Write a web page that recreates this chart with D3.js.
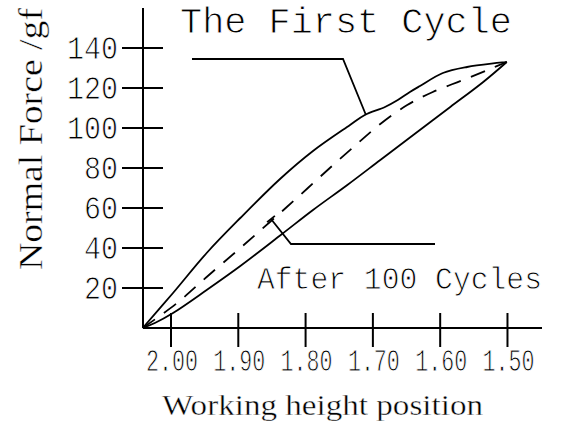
<!DOCTYPE html>
<html>
<head>
<meta charset="utf-8">
<script src="https://cdn.jsdelivr.net/npm/d3@7"></script>
<style>
	body { margin: 0; background: #fff; }
	svg { display: block; }
	.simplex {
		font-family: "Liberation Mono", "DejaVu Sans Mono", monospace;
		stroke: #fff;
		stroke-width: 0.9px;
		paint-order: normal;
	}
	.serif {
		font-family: "Liberation Serif", "DejaVu Serif", serif;
		stroke: #fff;
		stroke-width: 0.4px;
		paint-order: normal;
	}
</style>
</head>
<body>
<script>
const w = 562;
const h = 429;

// * DATA
const xTicks = [2.0, 1.9, 1.8, 1.7, 1.6, 1.5];
const yTicks = [20, 40, 60, 80, 100, 120, 140];

// the first cycle (upper solid curve)
const firstX = [2.042, 1.997, 1.947, 1.897, 1.838, 1.789, 1.734, 1.712, 1.682, 1.663, 1.645, 1.63, 1.596, 1.56, 1.501];
const firstY = [0, 17.5, 37.5, 55, 74.5, 88.5, 101.5, 106.5, 110.5, 114, 118, 121, 127.5, 130.5, 133];

// dashed middle curve
const midX = [2.042, 1.991, 1.947, 1.897, 1.853, 1.808, 1.764, 1.722, 1.689, 1.649, 1.611, 1.566, 1.526, 1.501];
const midY = [0, 12.5, 25.5, 40, 53, 66.5, 80, 92.5, 102, 111.5, 118, 124, 129.5, 133];

// after 100 cycles (lower solid curve)
const afterX = [2.042, 2.024, 1.997, 1.947, 1.897, 1.835, 1.789, 1.738, 1.689, 1.64, 1.585, 1.536, 1.501];
const afterY = [0, 2.5, 7.5, 19, 31, 47, 59, 71.5, 84, 96.5, 110.5, 123, 133];

// leader lines, in data units
const firstLeaderX = [1.9688, 1.7444, 1.7103];
const firstLeaderY = [134.5, 134.5, 106.5];
const afterLeaderX = [1.6077, 1.8217, 1.8514];
const afterLeaderY = [42, 42, 54.5];

// * SVG
const svg = d3
	.select("body")
	.append("svg")
	.attr("width", w)
	.attr("height", h);

// * SCALES
const xScale = d3.scaleLinear().domain([2.0416, 1.4487]).range([143, 542]);
const yScale = d3.scaleLinear().domain([0, 160]).range([328, 8]);

// * AXES
svg.append("line")
	.attr("x1", xScale(2.0416)).attr("x2", xScale(2.0416))
	.attr("y1", yScale(160)).attr("y2", yScale(0))
	.attr("stroke", "#000").attr("stroke-width", 2);
svg.append("line")
	.attr("x1", xScale(2.0416)).attr("x2", xScale(1.4487))
	.attr("y1", yScale(0)).attr("y2", yScale(0))
	.attr("stroke", "#000").attr("stroke-width", 2);

svg.selectAll(".ytick")
	.data(yTicks)
	.enter()
	.append("line")
	.attr("class", "ytick")
	.attr("x1", xScale(2.0416) - 21)
	.attr("x2", xScale(2.0416) + 20)
	.attr("y1", (d) => yScale(d))
	.attr("y2", (d) => yScale(d))
	.attr("stroke", "#000")
	.attr("stroke-width", 2);

svg.selectAll(".ylabel")
	.data(yTicks)
	.enter()
	.append("text")
	.attr("class", "simplex")
	.attr("x", 118)
	.attr("y", (d) => yScale(d) + 11)
	.attr("text-anchor", "end")
	.attr("font-size", 33)
	.attr("textLength", (d) => String(d).length * 17)
	.attr("lengthAdjust", "spacingAndGlyphs")
	.text((d) => d);

svg.selectAll(".xtick")
	.data(xTicks)
	.enter()
	.append("line")
	.attr("class", "xtick")
	.attr("x1", (d) => xScale(d))
	.attr("x2", (d) => xScale(d))
	.attr("y1", yScale(0) - 15)
	.attr("y2", yScale(0) + 19)
	.attr("stroke", "#000")
	.attr("stroke-width", 2);

svg.selectAll(".xlabel")
	.data(xTicks)
	.enter()
	.append("text")
	.attr("class", "simplex")
	.attr("x", (d) => xScale(d) + 1)
	.attr("y", 371)
	.attr("text-anchor", "middle")
	.attr("font-size", 31)
	.attr("textLength", 52)
	.attr("lengthAdjust", "spacingAndGlyphs")
	.text((d) => d3.format(".2f")(d));

// * CURVES
const line = d3
	.line()
	.x((d) => xScale(d[0]))
	.y((d) => yScale(d[1]))
	.curve(d3.curveCatmullRom.alpha(0.5));

const series = [
	{ xs: firstX, ys: firstY, dash: null },
	{ xs: midX, ys: midY, dash: "15,11" },
	{ xs: afterX, ys: afterY, dash: null },
];

series.forEach((s) => {
	svg.append("path")
		.datum(s.xs.map((x, i) => [x, s.ys[i]]))
		.attr("d", line)
		.attr("fill", "none")
		.attr("stroke", "#000")
		.attr("stroke-width", 1.8)
		.attr("stroke-dasharray", s.dash);
});

// * LEADERS
const leader = d3
	.line()
	.x((d) => xScale(d[0]))
	.y((d) => yScale(d[1]));

[
	[firstLeaderX, firstLeaderY],
	[afterLeaderX, afterLeaderY],
].forEach(([xs, ys]) => {
	svg.append("path")
		.datum(xs.map((x, i) => [x, ys[i]]))
		.attr("d", leader)
		.attr("fill", "none")
		.attr("stroke", "#000")
		.attr("stroke-width", 1.8);
});

// small cross bar at the end of the lower leader
const ex = xScale(afterLeaderX[2]);
const ey = yScale(afterLeaderY[2]);
const dx = ex - xScale(afterLeaderX[1]);
const dy = ey - yScale(afterLeaderY[1]);
const len = Math.hypot(dx, dy);
const px = (-dy / len) * 5;
const py = (dx / len) * 5;
svg.append("line")
	.attr("x1", ex - px).attr("y1", ey - py)
	.attr("x2", ex + px).attr("y2", ey + py)
	.attr("stroke", "#000")
	.attr("stroke-width", 1.8);

// * LABELS
svg.append("text")
	.attr("class", "simplex")
	.attr("x", 180)
	.attr("y", 33)
	.attr("font-size", 37)
	.attr("textLength", 332)
	.attr("lengthAdjust", "spacingAndGlyphs")
	.text("The First Cycle");

svg.append("text")
	.attr("class", "simplex")
	.attr("x", 257)
	.attr("y", 289)
	.attr("font-size", 31)
	.attr("textLength", 285)
	.attr("lengthAdjust", "spacingAndGlyphs")
	.text("After 100 Cycles");

svg.append("text")
	.attr("class", "serif")
	.attr("x", 162)
	.attr("y", 415)
	.attr("font-size", 29)
	.attr("textLength", 321)
	.attr("lengthAdjust", "spacingAndGlyphs")
	.text("Working height position");

svg.append("text")
	.attr("class", "serif")
	.attr("transform", "translate(42,139) rotate(-90)")
	.attr("text-anchor", "middle")
	.attr("font-size", 34)
	.attr("textLength", 262)
	.attr("lengthAdjust", "spacingAndGlyphs")
	.text("Normal Force /gf");
</script>
</body>
</html>
